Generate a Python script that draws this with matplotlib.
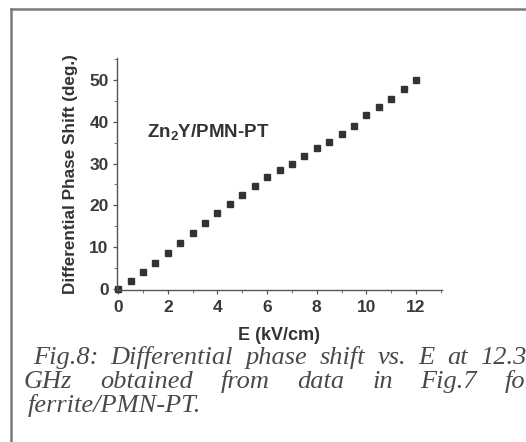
import matplotlib
matplotlib.use('Agg')
import matplotlib.pyplot as plt
from matplotlib.lines import Line2D
from matplotlib.ticker import MultipleLocator

# field (kV/cm) and measured differential phase shift (deg.)
e_field = [0, 0.5, 1, 1.5, 2, 2.5, 3, 3.5, 4, 4.5, 5, 5.5, 6, 6.5, 7, 7.5,
           8, 8.5, 9, 9.5, 10, 10.5, 11, 11.5, 12]
phase_shift = [0, 1.9, 4.0, 6.3, 8.6, 11.0, 13.5, 15.8, 18.1, 20.3, 22.5, 24.6,
               26.7, 28.4, 30.0, 31.8, 33.6, 35.1, 37.0, 39.0, 41.6, 43.6,
               45.4, 47.9, 50.0]
x_ticks = [0, 2, 4, 6, 8, 10, 12]
y_ticks = [0, 10, 20, 30, 40, 50]

plt.rcParams['font.family'] = 'Liberation Sans'
plt.rcParams['mathtext.fontset'] = 'custom'
plt.rcParams['mathtext.rm'] = 'Liberation Sans:bold'
plt.rcParams['mathtext.bf'] = 'Liberation Sans:bold'

W, H = 526, 442
fig = plt.figure(figsize=(W / 100, H / 100), dpi=100)
fig.patch.set_facecolor('white')

ax = fig.add_axes([117 / W, 1 - 290 / H, 325 / W, 232 / H])
ax.plot(e_field, phase_shift, 's', color='#333333', markersize=4.8, clip_on=False)

ax.set_xlim(-0.05, 13.05)
ax.set_ylim(-0.2, 55.2)
ax.set_xticks(x_ticks)
ax.set_yticks(y_ticks)
ax.xaxis.set_minor_locator(MultipleLocator(1))
ax.yaxis.set_minor_locator(MultipleLocator(5))

for side in ['top', 'right']:
    ax.spines[side].set_visible(False)
for side in ['left', 'bottom']:
    ax.spines[side].set_color('#555555')
    ax.spines[side].set_linewidth(1.0)

ax.tick_params(which='major', direction='out', length=3, width=0.9,
               color='#555555', labelcolor='#3a3a3a', labelsize=12.5)
ax.tick_params(axis='x', which='major', pad=4)
ax.tick_params(axis='y', which='major', pad=3)
ax.tick_params(which='minor', direction='out', length=2, width=0.7, color='#777777')
for lab in ax.get_xticklabels() + ax.get_yticklabels():
    lab.set_fontweight('bold')

ax.set_xlabel('E (kV/cm)', fontsize=13, fontweight='bold', color='#333333', labelpad=9)
ax.set_ylabel('Differential Phase Shift (deg.)', fontsize=12.3, fontweight='bold',
              color='#333333', labelpad=8)

ax.text(1.17, 37.4, r'Zn$_{\mathbf{2}}$Y/PMN-PT', fontsize=13.5, fontweight='bold',
        color='#333333', ha='left', va='center')

# caption below the chart, justified like the printed page
cap = dict(family='Liberation Serif', style='italic', fontsize=19, color='#4a4a4a',
           va='baseline', ha='left')
renderer = fig.canvas.get_renderer()


def justified_line(words, x_first, x_last, y):
    # place words so the first starts at x_first and the last at x_last (pixels)
    texts = [fig.text(0, 1 - y / H, w, **cap) for w in words]
    widths = [t.get_window_extent(renderer).width for t in texts]
    gap = (x_last - x_first - sum(widths[:-1])) / (len(words) - 1)
    x = x_first
    for t, w in zip(texts, widths):
        t.set_x(x / W)
        x += w + gap


justified_line(['Fig.8:', 'Differential', 'phase', 'shift', 'vs.', 'E', 'at', '12.38'],
               33, 480, 364)
justified_line(['GHz', 'obtained', 'from', 'data', 'in', 'Fig.7', 'for'], 24, 505, 388)
fig.text(28 / W, 1 - 412 / H, 'ferrite/PMN-PT.', **cap)

# grey frame around the figure panel
fig.add_artist(Line2D([11 / W, 11 / W], [0, 1 - 9 / H], transform=fig.transFigure,
                      color='#7a7a7a', linewidth=1.8))
fig.add_artist(Line2D([11 / W, 1], [1 - 9 / H, 1 - 9 / H], transform=fig.transFigure,
                      color='#7a7a7a', linewidth=1.8))

fig.savefig('out.png', dpi=100)
